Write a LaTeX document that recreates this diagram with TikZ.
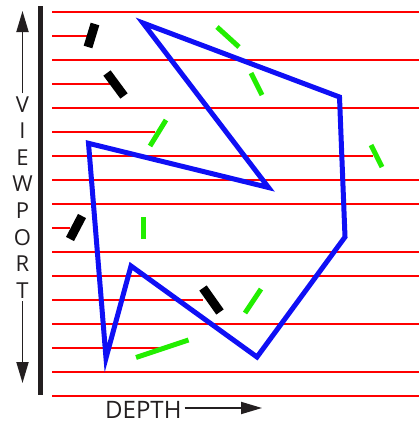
\documentclass[tikz,border=0pt]{standalone}
\usepackage{fontspec}
\setmainfont{Open Sans}
\usetikzlibrary{arrows.meta}
\definecolor{vpRay}{HTML}{FF0000}
\definecolor{vpSurface}{HTML}{0F0FF5}
\definecolor{vpSeeThru}{HTML}{22EE00}
\definecolor{vpDark}{HTML}{231F20}
\tikzset{
  ray/.style={draw=vpRay, line width=2.3pt},
  surface/.style={draw=vpSurface, line width=5pt, line join=miter},
  opaque/.style={draw=black, line width=9pt},
  seethru/.style={draw=vpSeeThru, line width=5pt},
  viewline/.style={draw=vpDark, line width=5pt},
  axisarrow/.style={-{Triangle[length=21pt, width=12pt]}, line width=1.8pt, draw=vpDark},
  axislabel/.style={font=\fontsize{22}{26}\selectfont, text=vpDark, inner sep=3pt}
}
\begin{document}
\begin{tikzpicture}[x=1pt, y=-1pt]
  \useasboundingbox (0,0) rectangle (419,423);
  \foreach \y/\xend in {12/419, 36/88, 60/419, 84/110, 108/419, 132/155, 156/373,
      180/419, 204/419, 228/70, 252/419, 276/419, 300/203, 324/419, 348/162,
      372/419, 396/419}
    \draw[ray] (52,\y) -- (\xend,\y);
  \draw[surface] (143,23) -- (339.5,97) -- (345,237) -- (257,357) -- (131,266)
    -- (106,358) -- (88.5,143.3) -- (268.5,187.5) -- cycle;
  \draw[opaque] (95,24) -- (88,47);
  \draw[opaque] (107,73) -- (124,96);
  \draw[opaque] (82,216) -- (70,239);
  \draw[opaque] (203,288) -- (220,312);
  \draw[seethru] (166,120) -- (150,146);
  \draw[seethru] (217,27) -- (239,47);
  \draw[seethru] (251,73) -- (262,95);
  \draw[seethru] (371,145) -- (382,167);
  \draw[seethru] (143,217) -- (143,239);
  \draw[seethru] (261,289) -- (245,313);
  \draw[seethru] (136,357.5) -- (188.5,340);
  \draw[viewline] (40.5,6) -- (40.5,395);
  \foreach \ch [count=\i] in {V,I,E,W,P,O,R,T}
    \node[axislabel, anchor=base] (vp\i) at (22.5,112+26.6*\i-26.6) {\ch};
  \coordinate (uptip) at (22.5,11);
  \coordinate (downtip) at (22.5,383);
  \draw[axisarrow] (vp1.north) -- (uptip);
  \draw[axisarrow] (vp8.south) -- (downtip);
  \node[axislabel, font=\fontsize{24}{28}\selectfont, inner sep=0pt, anchor=base west] (depth) at (105,418) {DEPTH};
  \coordinate (depthtip) at (262,408);
  \draw[axisarrow] ([xshift=3pt]depth.east |- depthtip) -- (depthtip);
\end{tikzpicture}
\end{document}
